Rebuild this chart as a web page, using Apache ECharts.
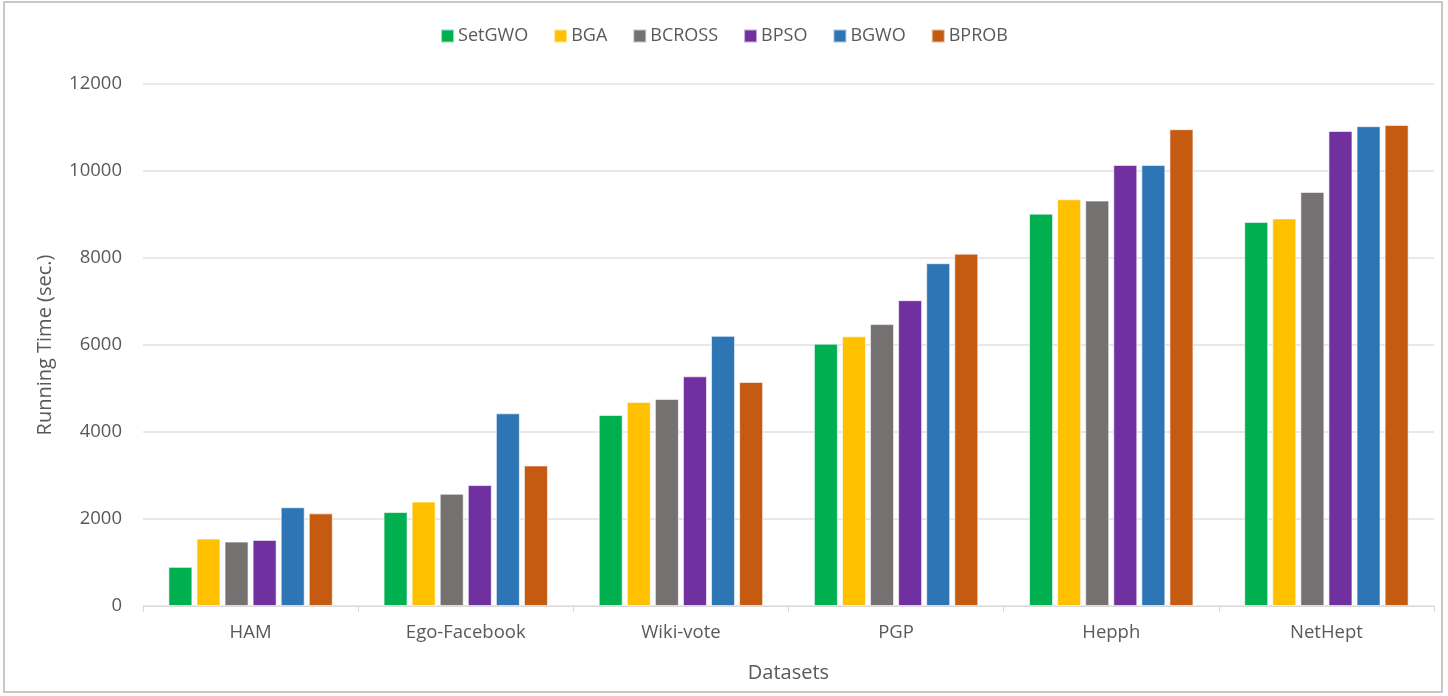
<!DOCTYPE html>
<html>
<head>
<meta charset="utf-8">
<script src="https://cdn.jsdelivr.net/npm/echarts@6/dist/echarts.min.js"></script>
<style>
  html, body { margin: 0; padding: 0; background: #fff; }
  #main { width: 1448px; height: 696px; }
</style>
</head>
<body>
<div id="main"></div>
<script>
// 数据
var categories = ['HAM', 'Ego-Facebook', 'Wiki-vote', 'PGP', 'Hepph', 'NetHept']
var seriesNames = ['SetGWO', 'BGA', 'BCROSS', 'BPSO', 'BGWO', 'BPROB']
var setgwo = [900, 2160, 4390, 6030, 9020, 8830]
var bga = [1550, 2400, 4690, 6200, 9350, 8910]
var bcross = [1480, 2580, 4760, 6480, 9320, 9520]
var bpso = [1520, 2780, 5280, 7030, 10140, 10920]
var bgwo = [2270, 4430, 6210, 7880, 10140, 11030]
var bprob = [2130, 3230, 5150, 8100, 10960, 11060]
var yTicks = [0, 2000, 4000, 6000, 8000, 10000, 12000]

var allData = [setgwo, bga, bcross, bpso, bgwo, bprob]
var colors = ['#00b050', '#ffc000', '#767171', '#7030a0', '#2e75b6', '#c55a11']

var myChart = echarts.init(document.getElementById('main'))

var option = {
  color: colors,
  textStyle: { fontFamily: 'Open Sans' },
  graphic: [
    {
      type: 'rect',
      shape: { x: 4, y: 2, width: 1438, height: 690 },
      style: { fill: 'none', stroke: '#c8c8c8', lineWidth: 2 },
      silent: true
    }
  ],
  legend: {
    top: 22,
    left: 'center',
    itemWidth: 13,
    itemHeight: 13,
    itemGap: 25,
    icon: 'rect',
    textStyle: { color: '#595959', fontSize: 18, padding: [0, 0, 0, -1] },
    data: seriesNames
  },
  grid: {
    left: 143,
    right: 14,
    top: 84,
    bottom: 90
  },
  xAxis: {
    type: 'category',
    data: categories,
    axisLine: { lineStyle: { color: '#d9d9d9' } },
    axisTick: { show: true, length: 6, lineStyle: { color: '#d9d9d9' } },
    axisLabel: { color: '#595959', fontSize: 18.5, margin: 17 },
    name: 'Datasets',
    nameLocation: 'middle',
    nameGap: 57,
    nameTextStyle: { color: '#595959', fontSize: 20 }
  },
  yAxis: {
    type: 'value',
    min: yTicks[0],
    max: yTicks[yTicks.length - 1],
    interval: 2000,
    axisLine: { show: false },
    axisTick: { show: false },
    axisLabel: {
      color: '#595959',
      fontSize: 18.5,
      margin: 21,
      formatter: function (v) { return String(v) }
    },
    splitLine: { lineStyle: { color: '#e0e0e0', width: 1.5 } },
    name: 'Running Time (sec.)',
    nameLocation: 'middle',
    nameGap: 88,
    nameTextStyle: { color: '#595959', fontSize: 20 }
  },
  series: seriesNames.map(function (name, i) {
    return {
      name: name,
      type: 'bar',
      data: allData[i],
      barWidth: 24,
      barGap: '17%',
      itemStyle: { borderColor: 'rgba(255,255,255,0.6)', borderWidth: 1 }
    }
  })
}

myChart.setOption(option)
</script>
</body>
</html>
